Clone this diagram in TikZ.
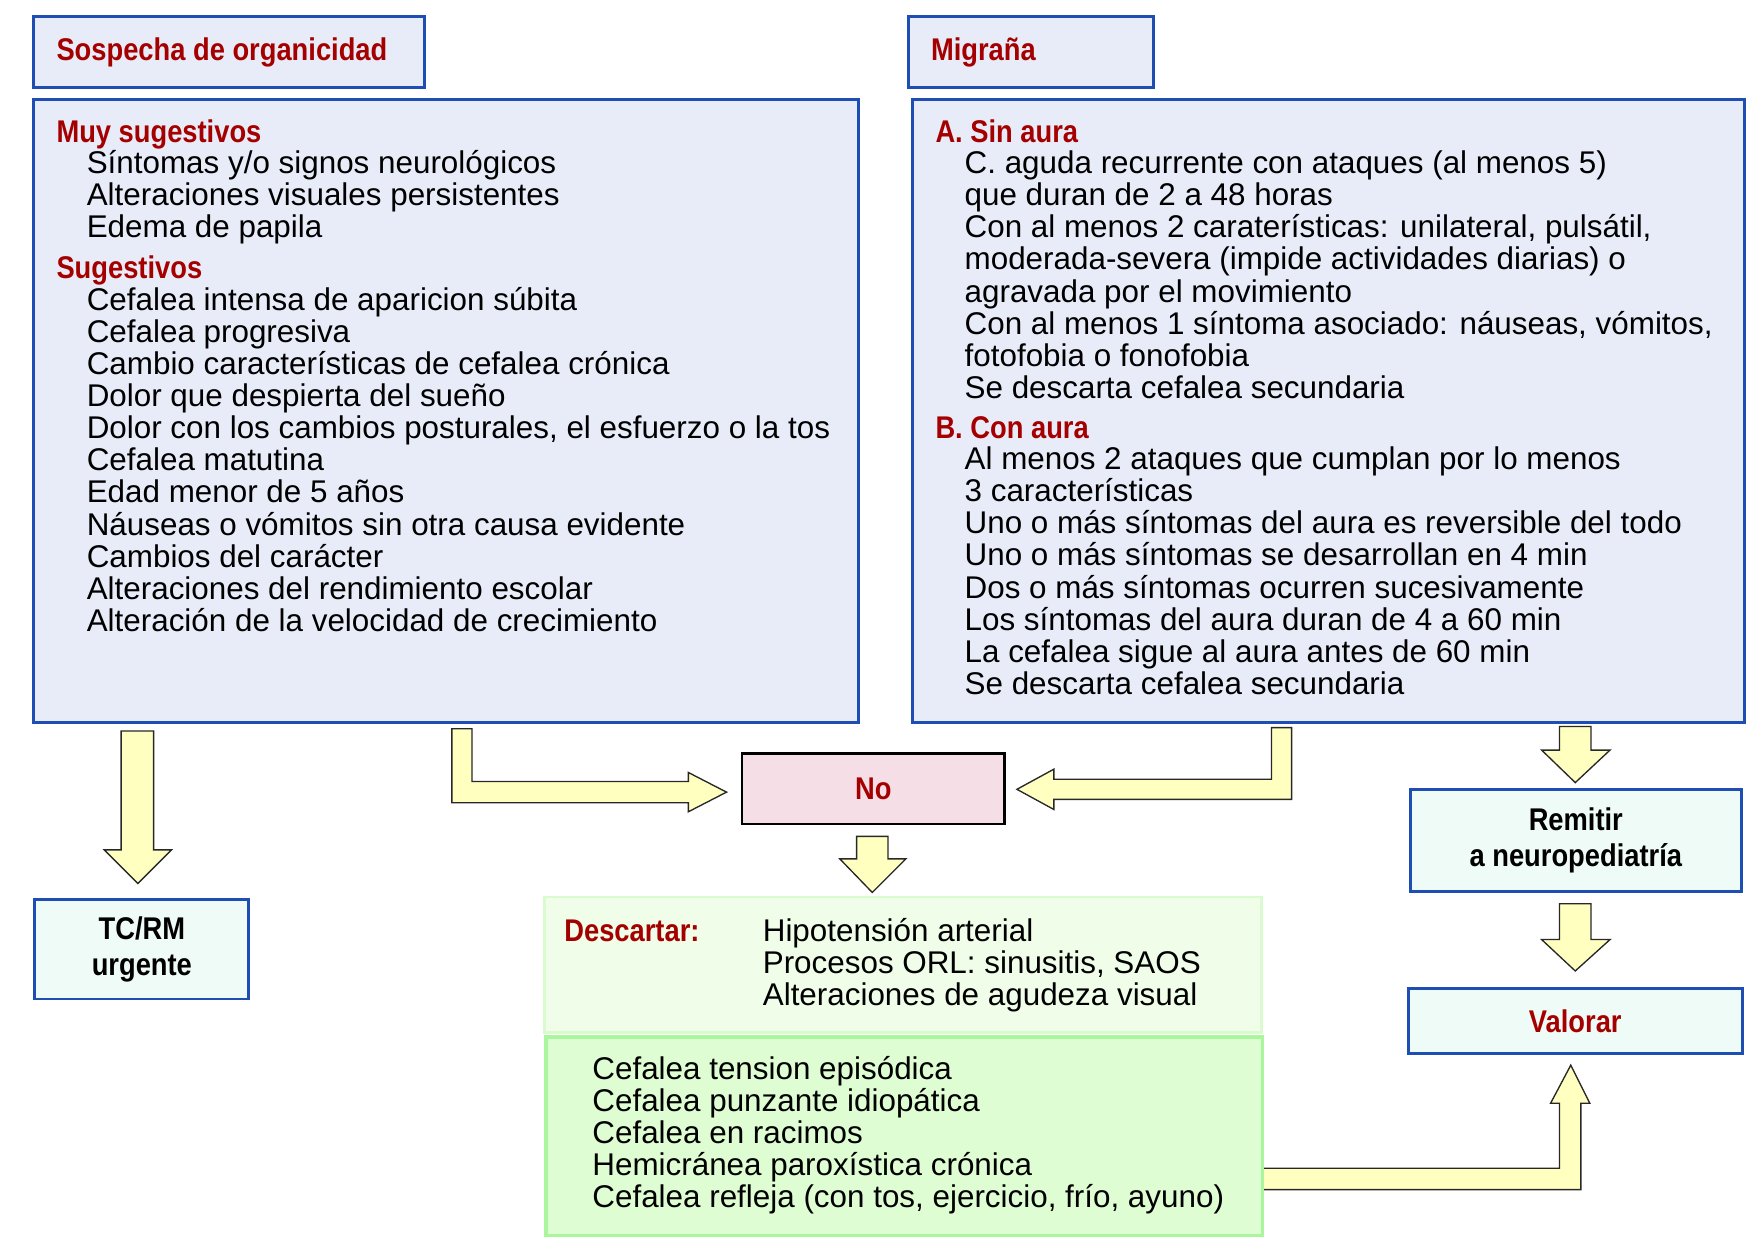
\documentclass[tikz,border=0pt]{standalone}
\usepackage{fontspec}
\setmainfont{Liberation Sans}
\newfontfamily\hdf[FakeStretch=0.87]{Liberation Sans}
\definecolor{boxblue}{RGB}{30,78,180}
\definecolor{boxfill}{RGB}{232,236,248}
\definecolor{hdred}{RGB}{165,0,0}
\definecolor{nofill}{RGB}{246,222,230}
\definecolor{mint}{RGB}{239,251,246}
\definecolor{descfill}{RGB}{239,253,233}
\definecolor{descline}{RGB}{218,250,208}
\definecolor{grfill}{RGB}{222,253,210}
\definecolor{grline}{RGB}{170,246,156}
\definecolor{arrfill}{RGB}{255,255,192}
\definecolor{arrline}{RGB}{40,40,40}
\begin{document}
\begin{tikzpicture}[x=0.5pt,y=-0.5pt,
  bx/.style={draw=boxblue, line width=1.3pt, fill=boxfill, inner sep=0pt},
  hd/.style={font=\hdf\bfseries\fontsize{14}{16}\selectfont, text=hdred, anchor=base west, inner sep=0pt},
  it/.style={font=\fontsize{14}{14.3}\selectfont, anchor=base west, inner sep=0pt},
  cbold/.style={font=\hdf\bfseries\fontsize{14}{16}\selectfont, align=center},
  barrow/.style={fill=arrfill, draw=arrline, line width=0.6pt, line join=miter}]
\useasboundingbox[fill=white] (0,0) rectangle (1568,1115);

% ---------- header boxes ----------
\node[bx, minimum width=174.5pt, minimum height=31.5pt] (sosp) at (204.5,46.5) {};
\node[hd] (sospT) at (50,54) {Sospecha de organicidad};
\node[bx, minimum width=109.5pt, minimum height=31.5pt] (migr) at (919.5,46.5) {};
\node[hd] (migrT) at (830,54) {Migraña};

% ---------- left big box ----------
\node[bx, minimum width=368pt, minimum height=277.5pt] (lbox) at (398,366.5) {};
\node[hd] (muy) at (50,127) {Muy sugestivos};
\foreach \t [count=\i from 0] in {{Síntomas y/o signos neurológicos},{Alteraciones visuales persistentes},{Edema de papila}}
  \node[it] (la\i) at (77,155+28.6*\i) {\t};
\node[hd] (sug) at (50,248) {Sugestivos};
\foreach \t [count=\i from 0] in {{Cefalea intensa de aparicion súbita},{Cefalea progresiva},{Cambio características de cefalea crónica},{Dolor que despierta del sueño},{Dolor con los cambios posturales, el esfuerzo o la tos},{Cefalea matutina},{Edad menor de 5 años},{Náuseas o vómitos sin otra causa evidente},{Cambios del carácter},{Alteraciones del rendimiento escolar},{Alteración de la velocidad de crecimiento}}
  \node[it] (lb\i) at (77,277+28.6*\i) {\t};

% ---------- right big box ----------
\node[bx, minimum width=371pt, minimum height=277.5pt] (rbox) at (1185,366.5) {};
\node[hd] (sina) at (834,127) {A. Sin aura};
\foreach \t [count=\i from 0] in {{C. aguda recurrente con ataques (al menos 5)},{que duran de 2 a 48 horas},{Con al menos 2 caraterísticas: unilateral, pulsátil,},{moderada-severa (impide actividades diarias) o},{agravada por el movimiento},{Con al menos 1 síntoma asociado: náuseas, vómitos,},{fotofobia o fonofobia},{Se descarta cefalea secundaria}}
  \node[it] (ra\i) at (860,155+28.6*\i) {\t};
\node[hd] (cona) at (834,391) {B. Con aura};
\foreach \t [count=\i from 0] in {{Al menos 2 ataques que cumplan por lo menos},{3 características},{Uno o más síntomas del aura es reversible del todo},{Uno o más síntomas se desarrollan en 4 min},{Dos o más síntomas ocurren sucesivamente},{Los síntomas del aura duran de 4 a 60 min},{La cefalea sigue al aura antes de 60 min},{Se descarta cefalea secundaria}}
  \node[it] (rb\i) at (860,419+28.6*\i) {\t};

% ---------- block arrows ----------
% left box -> TC/RM
\draw[barrow] (108,652) -- (137,652) -- (137,758) -- (153,758) -- (123,788) -- (93,758) -- (108,758) -- cycle;
% left box -> No
\draw[barrow] (403,650) -- (421,650) -- (421,697) -- (614,697) -- (614,689) -- (648,706.5) -- (614,724) -- (614,716) -- (403,716) -- cycle;
% right box -> No
\draw[barrow] (1152,649) -- (1134,649) -- (1134,695) -- (940,695) -- (940,686) -- (907,704) -- (940,722) -- (940,713) -- (1152,713) -- cycle;
% No -> Descartar
\draw[barrow] (764,746) -- (792,746) -- (792,766) -- (808,766) -- (778,796) -- (749,766) -- (764,766) -- cycle;
% right box -> Remitir
\draw[barrow] (1391,648) -- (1419,648) -- (1419,669) -- (1436,669) -- (1405,698) -- (1375,669) -- (1391,669) -- cycle;
% Remitir -> Valorar
\draw[barrow] (1391,806) -- (1419,806) -- (1419,838) -- (1436,838) -- (1405,866) -- (1375,838) -- (1391,838) -- cycle;
% green box -> Valorar
\draw[barrow] (1118,1042) -- (1391,1042) -- (1391,984) -- (1383,984) -- (1401,950) -- (1418,984) -- (1410,984) -- (1410,1061) -- (1118,1061) -- cycle;

% ---------- middle and bottom ----------
\node[draw=black, line width=1.1pt, fill=nofill, minimum width=117pt, minimum height=31.5pt, inner sep=0pt, cbold, text=hdred] (no) at (779,703.5) {No};

\node[bx, fill=mint, minimum width=95.5pt, minimum height=44.5pt, cbold] (tc) at (126.5,846.5) {TC/RM\\urgente};
\node[bx, fill=mint, minimum width=147.5pt, minimum height=45.5pt, cbold] (remit) at (1405.5,749.5) {Remitir\\a neuropediatría};
\node[bx, fill=mint, minimum width=149pt, minimum height=29pt, cbold, text=hdred] (valor) at (1405,911) {Valorar};

\node[draw=descline, line width=1.3pt, fill=descfill, minimum width=319.5pt, minimum height=60.5pt, inner sep=0pt] (desc) at (805.5,860.5) {};
\node[hd] (descT) at (503,840) {Descartar:};
\foreach \t [count=\i from 0] in {{Hipotensión arterial},{Procesos ORL: sinusitis, SAOS},{Alteraciones de agudeza visual}}
  \node[it] (d\i) at (680,840+28.6*\i) {\t};

\node[draw=grline, line width=1.6pt, fill=grfill, minimum width=319.5pt, minimum height=88.5pt, inner sep=0pt] (green) at (806.5,1013.5) {};
\foreach \t [count=\i from 0] in {{Cefalea tension episódica},{Cefalea punzante idiopática},{Cefalea en racimos},{Hemicránea paroxística crónica},{Cefalea refleja (con tos, ejercicio, frío, ayuno)}}
  \node[it] (g\i) at (528,963+28.6*\i) {\t};
\end{tikzpicture}
\end{document}
